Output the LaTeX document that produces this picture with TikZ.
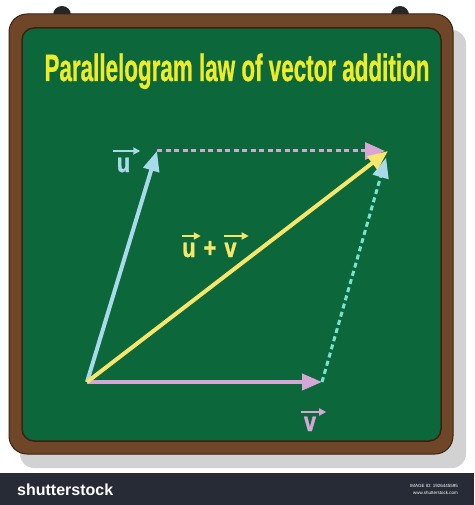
\documentclass[tikz,border=0pt]{standalone}
\usepackage{fontspec}
\setmainfont{Liberation Sans}
\newfontfamily\heavyfont[FakeBold=1.6]{Liberation Sans Bold}
\newfontfamily\titlefont[FakeBold=1.0]{Liberation Sans Bold}
\usetikzlibrary{arrows.meta}
\usetikzlibrary{positioning}
\usetikzlibrary{calc}

\definecolor{board}{RGB}{12,104,58}
\definecolor{frame}{RGB}{112,70,40}
\definecolor{framedark}{RGB}{58,34,18}
\definecolor{shadowgray}{RGB}{210,210,210}
\definecolor{titleyellow}{RGB}{238,236,40}
\definecolor{ublue}{RGB}{168,218,236}
\definecolor{vpink}{RGB}{214,166,214}
\definecolor{sumyellow}{RGB}{246,230,108}
\definecolor{dashcyan}{RGB}{120,226,212}
\definecolor{barnavy}{RGB}{38,43,53}

\tikzstyle{vecline}=[line width=4pt, -{Triangle[length=20pt,width=16pt]}]
\tikzstyle{dashline}=[line width=3pt, dash pattern=on 5pt off 3.5pt]
\tikzstyle{letter}=[font=\fontsize{27}{27}\selectfont\heavyfont, inner sep=0pt, anchor=base, xscale=0.8]
\tikzstyle{overarrow}=[line width=2pt, -{Triangle[length=7pt,width=7pt]}]
\tikzstyle{title}=[font=\fontsize{38}{38}\selectfont\titlefont, text=titleyellow, inner sep=0pt, anchor=base, xscale=0.59]

\begin{document}
\begin{tikzpicture}[x=1pt, y=-1pt]

   \useasboundingbox[fill=white] (0,0) rectangle (474,505);

   % board with shadow and hooks
   \fill[shadowgray, rounded corners=14pt] (20,30) rectangle (466,468);
   \foreach \x in {62, 400}
       \fill[black!85] (\x,15) circle (9);
   \draw[fill=frame, draw=framedark, line width=1pt, rounded corners=18pt] (9,14) rectangle (453,454);
   \draw[fill=board, draw=framedark, line width=1.5pt, rounded corners=12pt] (22,28) rectangle (441,441);

   \node[title] (title) at (237,81) {Parallelogram law of vector addition};

    \foreach \pos/\name in {{(87,382)/O}, {(157,151)/U}, {(322,382)/V}, {(388,151)/W}}
        \node[coordinate] (\name) at \pos {};

%   \draw[red] (O) -- (U) -- (W) -- (V) -- cycle;
   \draw[dashline, vpink, -{Triangle[length=20pt,width=17pt]}, shorten >=3pt] (U) -- (W);
   \draw[dashline, dashcyan, -{Triangle[length=20pt,width=16pt,color=ublue]}, shorten >=7pt] (V) -- (W);

    \foreach \source/\dest/\col in {O/U/ublue, O/V/vpink, O/W/sumyellow}
        \draw[vecline, color=\col] (\source) -- (\dest);

   % labels
   \node[letter, text=ublue] (lu) at (123.5,172) {u};
   \node[letter, text=vpink] (lv) at (310,431) {v};
   \node[letter, text=sumyellow] (su) at (189,257) {u};
   \node[letter, text=sumyellow] (plus) at (210,257) {+};
   \node[letter, text=sumyellow] (sv) at (230.5,257) {v};

   \draw[overarrow, ublue] ([shift={(-4pt,21pt)}]lu.base west) -- ([shift={(10pt,21pt)}]lu.base east);
   \draw[overarrow, vpink] ([shift={(-3pt,19pt)}]lv.base west) -- ([shift={(10pt,19pt)}]lv.base east);
   \draw[overarrow, sumyellow] ([shift={(0pt,21pt)}]su.base west) -- ([shift={(5pt,21pt)}]su.base east);
   \draw[overarrow, sumyellow] ([shift={(0pt,21pt)}]sv.base west) -- ([shift={(12pt,21pt)}]sv.base east);

   % bottom strip
   \fill[barnavy] (0,473) rectangle (474,505);
   \node[font=\fontsize{16}{16}\selectfont\bfseries, text=white, anchor=base west, inner sep=0pt] (brand) at (17,495) {shutterstock};
   \node[font=\fontsize{4.5}{4.5}\selectfont, text=white!80, anchor=base east, inner sep=0pt] (imgid) at (458,487) {IMAGE ID: 1926445595};
   \node[font=\fontsize{4.5}{4.5}\selectfont, text=white!60, anchor=base east, inner sep=0pt] (site) at (458,494) {www.shutterstock.com};

\end{tikzpicture}
\end{document}
